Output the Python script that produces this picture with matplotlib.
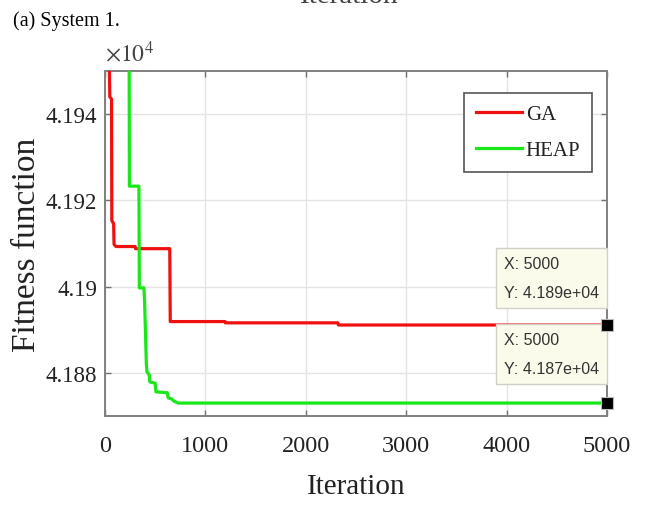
import numpy as np
import matplotlib
matplotlib.use("Agg")
import matplotlib.pyplot as plt
from matplotlib.ticker import FuncFormatter

plt.rcParams['font.family'] = ['Liberation Serif', 'DejaVu Serif']
plt.rcParams['mathtext.fontset'] = 'stix'

# convergence history (iteration, best fitness)
ga_iter = [0, 40, 48, 65, 68, 86, 90, 110, 300, 304, 645, 650, 1195, 1200, 2320, 2325, 5000]
ga_fit = [41980, 41955, 41944, 41943.5, 41915.3, 41914.6, 41909.8, 41909.3, 41909.3,
          41908.8, 41908.8, 41891.9, 41891.9, 41891.6, 41891.6, 41891.1, 41891.1]

heap_iter = [0, 240, 243, 338, 342, 388, 395, 412, 418, 440, 447, 500, 507, 620, 630,
             660, 690, 730, 5000]
heap_fit = [41990, 41960, 41923.3, 41923.3, 41899.7, 41899.7, 41896, 41882, 41880.2,
            41879.6, 41877.9, 41877.6, 41875.6, 41875.4, 41874.2, 41874.0, 41873.4,
            41873.0, 41873.0]

x_ticks = [0, 1000, 2000, 3000, 4000, 5000]
y_ticks = [41880, 41900, 41920, 41940]

fig = plt.figure(figsize=(6.47, 5.06), dpi=100)
ax = fig.add_axes([105 / 647, 89 / 506, 502 / 647, 345 / 506])

ax.plot(ga_iter, ga_fit, color='#f01010', lw=2.3, label='GA', zorder=3)
ax.plot(heap_iter, heap_fit, color='#18e818', lw=2.3, label='HEAP', zorder=3)

ax.set_xlim(0, 5000)
ax.set_ylim(41870, 41950)
ax.set_xticks(x_ticks)
ax.set_yticks(y_ticks)
ax.yaxis.set_major_formatter(FuncFormatter(lambda v, p: f'{v / 1e4:g}'))
ax.grid(True, color='#e4e4e4', lw=1.0, zorder=0)

for s in ax.spines.values():
    s.set_color('#808080')
    s.set_linewidth(1.4)
ax.tick_params(direction='in', length=4.5, width=1.0, color='#707070',
               top=True, right=True, labelcolor='#222222')
ax.tick_params(axis='x', pad=14, labelsize=17.5)
ax.tick_params(axis='y', pad=5.5, labelsize=16.5)

ax.set_xlabel('Iteration', fontsize=21, color='#222222', labelpad=12)
ax.set_ylabel('Fitness function', fontsize=24, color='#222222', labelpad=3)
ax.text(0.0, 1.015, r'$\times10^{4}$', transform=ax.transAxes, fontsize=17,
        color='#444444', ha='left', va='bottom')

leg = ax.legend(loc='upper right', bbox_to_anchor=(0.97, 0.936), borderaxespad=0,
                fontsize=15, handlelength=2.2, handletextpad=0.2, labelspacing=0.8,
                borderpad=0.55, fancybox=False, framealpha=1, edgecolor='#555555')
leg.get_frame().set_linewidth(1.2)
for t in leg.get_texts():
    t.set_color('#222222')

# data tips at the last iteration
tips = [(ga_iter[-1], ga_fit[-1], 47), (heap_iter[-1], heap_fit[-1], 49)]
for xv, yv, dy in tips:
    ax.plot([xv], [yv], marker='s', ms=9, mfc='black', mec='#bbbbbb', mew=0.8,
            clip_on=False, zorder=6)
    ax.annotate(f'X: {xv}\nY: {yv:.3e}', xy=(xv, yv), xycoords='data',
                xytext=(-103, dy), textcoords='offset pixels', ha='left', va='center',
                fontsize=11.5, family=['Liberation Sans Narrow', 'Liberation Sans'],
                color='#333333', linespacing=2.1, zorder=5,
                bbox=dict(boxstyle='square,pad=0.5', fc='#fbfbec', ec='#d0d0c8', lw=1))

fig.text(13 / 647, 480 / 506, '(a) System 1.', fontsize=14.5, ha='left', va='baseline')
fig.text(0.54, 503 / 506, 'Iteration', fontsize=21, color='#444444', ha='center',
         va='baseline')

fig.savefig('out.png', dpi=100)
